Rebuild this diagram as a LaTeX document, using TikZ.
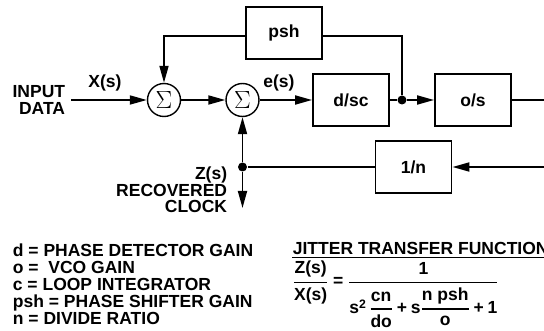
\documentclass[tikz,border=0pt]{standalone}
\usepackage{amsmath}
\usepackage{fontspec}
\setmainfont{Liberation Sans}
\usetikzlibrary{arrows.meta}

\begin{document}
\begin{tikzpicture}[x=1pt,y=-1pt,line width=1.8pt,
  font=\fontsize{17.5}{16.5}\selectfont\bfseries,
  blk/.style={draw,minimum width=76pt,minimum height=52pt,inner sep=0pt},
  sumnode/.style={draw,circle,line width=1.4pt,minimum size=33pt,inner sep=0pt,
    font=\fontsize{30}{30}\selectfont},
  junc/.style={circle,fill,inner sep=0pt,minimum size=9pt},
  arr/.style={-{Triangle[length=17pt,width=9pt]}},
  lbl/.style={inner sep=0pt}]

\useasboundingbox (0,0) rectangle (544,331);

% Loop blocks
\node[blk] (psh) at (284,33) {psh};
\node[blk] (dsc) at (351,100) {d/sc};
\node[blk] (os) at (473,100) {o/s};
\node[blk] (divn) at (413.5,167) {1/n};

% Summing junctions
\node[sumnode] (sum1) at (164,100) {$\Sigma$};
\node[sumnode] (sum2) at (242.5,100) {$\Sigma$};

% Junction dots and free ends
\node[junc] (tap) at (402,100) {};
\node[junc] (zout) at (sum2 |- divn) {};
\coordinate (din) at (71,100);
\coordinate (osout) at (544,100);
\coordinate (nin) at (544,167);
\coordinate (clk) at (242.5,208);

% Forward path
\draw[arr] (din) -- (sum1);
\draw[arr] (sum1) -- (sum2);
\draw[arr] (sum2) -- (dsc);
\draw (dsc) -- (tap);
\draw[arr] (tap) -- (os);
\draw (os) -- (osout);

% Phase shifter
\draw[arr] ([yshift=-3pt]psh.west) -| (sum1);
\draw ([yshift=-3pt]psh.east) -| (tap);

% Divider feedback
\draw[arr] (nin) -- (divn);
\draw (divn) -- (zout);
\draw[arr] (zout) -- (sum2);
\draw[arr] (zout) -- (clk);

% Signal labels
\node[lbl] (xs) at (105,83) {X(s)};
\node[lbl] (es) at (279,83) {e(s)};
\node[lbl,align=right,anchor=east] (indata) at (66,100) {INPUT\\DATA};
\node[lbl,align=right,anchor=east] (zlab) at (228,190) {Z(s)\\RECOVERED\\CLOCK};

% Legend
\node[lbl,align=left,anchor=north west,font=\fontsize{17.5}{17}\selectfont\bfseries]
  (legend) at (12,243) {d = PHASE DETECTOR GAIN\\o =\ \ VCO GAIN\\c = LOOP INTEGRATOR\\
  psh = PHASE SHIFTER GAIN\\n = DIVIDE RATIO};

% Transfer function
\node[lbl,anchor=base west] (jtf) at (292,255) {JITTER TRANSFER FUNCTION};
\draw[line width=1.5pt] ([yshift=-2.5pt]jtf.base west) -- ([yshift=-2.5pt]jtf.base east);
\node[lbl,anchor=west] (tf) at (292,294) {$\displaystyle
  \genfrac{}{}{1.5pt}{}{\text{Z(s)}}{\text{X(s)}}
  \mathrel{\text{=}}
  \genfrac{}{}{1.5pt}{}{\text{1}}{\text{s}^{\text{2}}\,
    \genfrac{}{}{1.5pt}{0}{\text{cn}}{\text{do}}\mathbin{\text{+}}
    \text{s}\genfrac{}{}{1.5pt}{0}{\text{n psh}}{\text{o}}\mathbin{\text{+}}\text{1}}$};

\end{tikzpicture}
\end{document}
